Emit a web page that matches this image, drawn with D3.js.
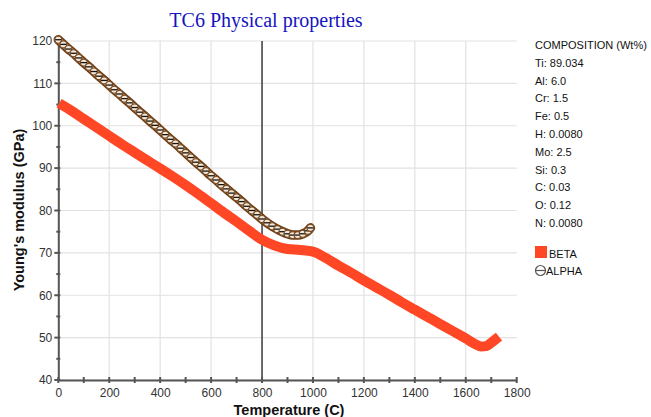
<!DOCTYPE html>
<html>
<head>
<meta charset="utf-8">
<script src="https://cdn.jsdelivr.net/npm/d3@7"></script>
<style>
  html, body { margin: 0; padding: 0; background: #fff; }
  svg { display: block; }
</style>
</head>
<body>
<svg id="chart" width="651" height="417"></svg>
<script>
// ---- data ----
const betaTemp = [20,50,100,150,200,250,300,350,400,450,500,550,600,650,700,750,800,850,900,950,1000,1050,1100,1150,1200,1250,1300,1350,1400,1450,1500,1550,1600,1640,1660,1680,1700,1715];
const betaModulus = [104.7,103.6,101.6,99.6,97.6,95.6,93.7,91.8,89.9,88.0,86.0,83.9,81.7,79.5,77.4,75.2,73.1,71.7,70.9,70.7,70.3,68.8,67.0,65.3,63.5,61.8,60.1,58.3,56.6,54.9,53.2,51.5,49.8,48.4,47.9,48.0,48.8,49.5];

const alphaTemp = [0,20,40,60,80,100,120,140,160,180,200,220,240,260,280,300,320,340,360,380,400,420,440,460,480,500,520,540,560,580,600,620,640,660,680,700,720,740,760,780,800,820,840,860,880,900,920,940,960,980,990];
const alphaModulus = [120.3,119.2,118.1,117.1,116.0,114.9,113.9,112.8,111.7,110.7,109.6,108.5,107.5,106.4,105.4,104.3,103.2,102.2,101.1,100.1,99.0,97.9,96.8,95.8,94.7,93.6,92.5,91.4,90.4,89.3,88.2,87.2,86.1,85.1,84.1,83.1,82.1,81.0,80.0,79.0,78.0,77.1,76.3,75.6,75.0,74.5,74.2,74.2,74.5,75.2,75.9];

const xTicks = [0,200,400,600,800,1000,1200,1400,1600,1800];
const yTicks = [40,50,60,70,80,90,100,110,120];
const compositionLabels = ["COMPOSITION (Wt%)","Ti: 89.034","Al: 6.0","Cr: 1.5","Fe: 0.5","H: 0.0080","Mo: 2.5","Si: 0.3","C: 0.03","O: 0.12","N: 0.0080"];
const seriesNames = ["BETA","ALPHA"];
const title = "TC6 Physical properties";
const xLabel = "Temperature (C)";
const yLabel = "Young's modulus (GPa)";
const markerLineT = 800;

// ---- layout ----
const svg = d3.select("#chart");
const x = d3.scaleLinear().domain([0,1800]).range([58.3,516.7]);
const y = d3.scaleLinear().domain([40,120]).range([380,41]);
const font = "'Liberation Sans', Arial, sans-serif";

// grid
const g = svg.append("g");
g.selectAll(".hg").data(yTicks).enter().append("line")
  .attr("x1", x(0)).attr("x2", x(1800))
  .attr("y1", d => y(d)).attr("y2", d => y(d))
  .attr("stroke", "#e2e2e2").attr("stroke-width", 1.2);
g.selectAll(".vg").data(xTicks.filter(d => d > 0 && d < 1800)).enter().append("line")
  .attr("x1", d => x(d)).attr("x2", d => x(d))
  .attr("y1", y(120)).attr("y2", y(40))
  .attr("stroke", "#e2e2e2").attr("stroke-width", 1.2);

// vertical marker line at 800
svg.append("line")
  .attr("x1", x(markerLineT)).attr("x2", x(markerLineT))
  .attr("y1", y(120)).attr("y2", y(40))
  .attr("stroke", "#222").attr("stroke-width", 1.3);

// axes
const xAxis = d3.axisBottom(x).tickValues(xTicks).tickSize(0).tickPadding(8).tickFormat(d3.format("d"));
const yAxis = d3.axisLeft(y).tickValues(yTicks).tickSize(0).tickPadding(6).tickFormat(d3.format("d"));
const gx = svg.append("g").attr("transform", `translate(0,${y(40)})`).call(xAxis);
const gy = svg.append("g").attr("transform", `translate(${x(0)},0)`).call(yAxis);
[gx, gy].forEach(a => {
  a.select(".domain").attr("stroke", "#555").attr("stroke-width", 2);
  a.selectAll("text").attr("font-family", font).attr("font-size", 12).attr("fill", "#333");
});
// tick marks (major + minor)
const xMinor = d3.range(0, 1801, 100);
svg.append("g").selectAll("line").data(xMinor).enter().append("line")
  .attr("x1", d => x(d)).attr("x2", d => x(d))
  .attr("y1", y(40) - 3).attr("y2", y(40) + 3)
  .attr("stroke", "#555").attr("stroke-width", 2);
const yMinor = d3.range(40, 121, 5);
svg.append("g").selectAll("line").data(yMinor).enter().append("line")
  .attr("x1", d => x(0) - (d % 10 === 0 ? 4 : 2)).attr("x2", x(0) + 2)
  .attr("y1", d => y(d)).attr("y2", d => y(d))
  .attr("stroke", "#555").attr("stroke-width", 2);

// BETA series
const beta = betaTemp.map((t, i) => [t, betaModulus[i]]);
const line = d3.line().x(d => x(d[0])).y(d => y(d[1])).curve(d3.curveMonotoneX);
svg.append("path").datum(beta)
  .attr("d", line)
  .attr("fill", "none").attr("stroke", "#ff4726")
  .attr("stroke-width", 10).attr("stroke-linejoin", "round").attr("stroke-linecap", "square");

// ALPHA series
const alpha = alphaTemp.map((t, i) => [t, alphaModulus[i]]);
svg.append("path").datum(alpha)
  .attr("d", line)
  .attr("fill", "none").attr("stroke", "#6e3f16").attr("stroke-width", 9.5)
  .attr("stroke-linecap", "round").attr("stroke-linejoin", "round");
svg.append("path").datum(alpha)
  .attr("d", line)
  .attr("fill", "none").attr("stroke", "#c9bba5").attr("stroke-width", 6)
  .attr("stroke-linecap", "round");
const am = svg.append("g").selectAll("g").data(alpha).enter().append("g")
  .attr("transform", d => `translate(${x(d[0])},${y(d[1])})`);
am.append("circle").attr("r", 3.5)
  .attr("fill", "#efe9de").attr("stroke", "#7a4a20").attr("stroke-width", 1.1);
am.append("line").attr("x1", -3.1).attr("x2", 3.1).attr("y1", 0).attr("y2", 0)
  .attr("stroke", "#1c120a").attr("stroke-width", 1.3);

// title
svg.append("text").attr("x", 266).attr("y", 27).attr("text-anchor", "middle")
  .attr("font-family", "'Liberation Serif', 'Times New Roman', serif").attr("font-size", 20)
  .attr("fill", "#1414c0").text(title);

// axis labels
svg.append("text").attr("x", 289).attr("y", 415).attr("text-anchor", "middle")
  .attr("font-family", font).attr("font-size", 14.5).attr("font-weight", "bold")
  .attr("fill", "#111").text(xLabel);
svg.append("text").attr("transform", "translate(24,210) rotate(-90)").attr("text-anchor", "middle")
  .attr("font-family", font).attr("font-size", 14.5).attr("font-weight", "bold")
  .attr("fill", "#111").text(yLabel);

// composition panel
svg.append("g").selectAll("text").data(compositionLabels).enter().append("text")
  .attr("x", 535).attr("y", (d, i) => 49 + i * 17.8)
  .attr("font-family", font).attr("font-size", 11).attr("fill", "#111")
  .text(d => d);

// legend
svg.append("rect").attr("x", 535).attr("y", 246).attr("width", 12).attr("height", 12).attr("fill", "#ff4726");
svg.append("text").attr("x", 549).attr("y", 257.5).attr("font-family", font).attr("font-size", 11).attr("fill", "#111").text(seriesNames[0]);
svg.append("circle").attr("cx", 540.5).attr("cy", 270.5).attr("r", 5).attr("fill", "none").attr("stroke", "#555").attr("stroke-width", 1.2);
svg.append("line").attr("x1", 535.5).attr("x2", 545.5).attr("y1", 270.5).attr("y2", 270.5).attr("stroke", "#555").attr("stroke-width", 1.2);
svg.append("text").attr("x", 546).attr("y", 274.5).attr("font-family", font).attr("font-size", 11).attr("fill", "#111").text(seriesNames[1]);
</script>
</body>
</html>
